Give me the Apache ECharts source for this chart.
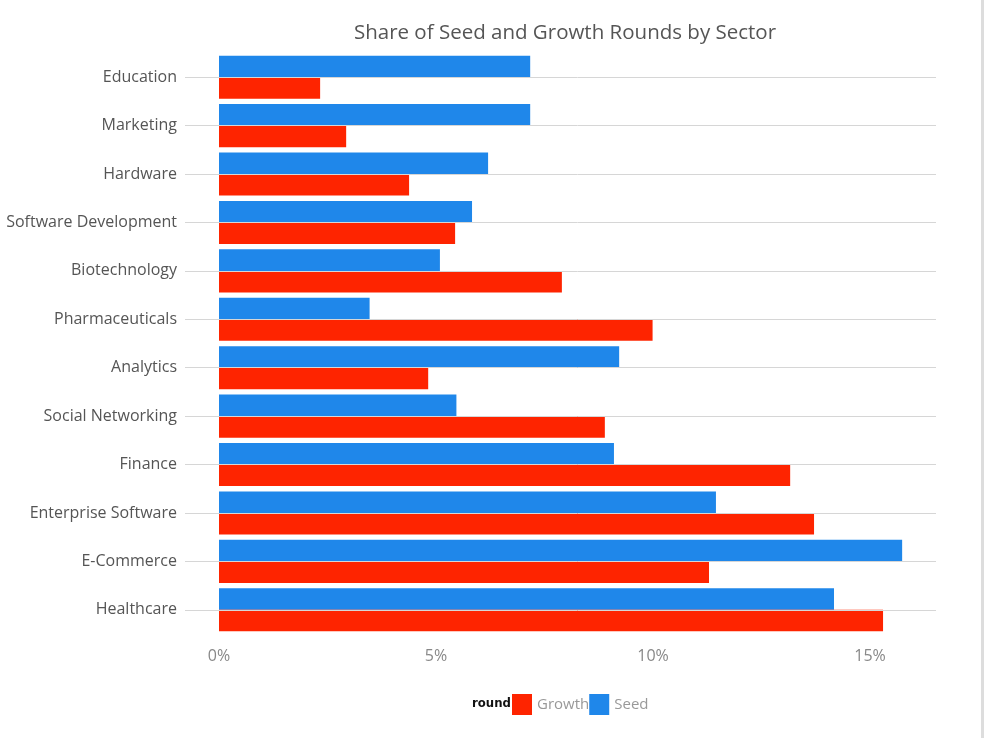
<!DOCTYPE html>
<html>
<head>
<meta charset="utf-8">
<script src="https://cdn.jsdelivr.net/npm/echarts@6/dist/echarts.min.js"></script>
<style>
html,body{margin:0;padding:0;background:#fff;}
#chart{width:985px;height:738px;}
</style>
</head>
<body>
<div id="chart"></div>
<script>
const categories = ['Education','Marketing','Hardware','Software Development','Biotechnology','Pharmaceuticals','Analytics','Social Networking','Finance','Enterprise Software','E-Commerce','Healthcare'];
const seedValues = [7.17, 7.17, 6.2, 5.83, 5.09, 3.47, 9.22, 5.47, 9.1, 11.45, 15.74, 14.17];
const growthValues = [2.33, 2.93, 4.38, 5.44, 7.9, 9.99, 4.82, 8.89, 13.16, 13.71, 11.29, 15.3];
const xTicks = [0, 5, 10, 15];

const FONT = 'Open Sans';
const chart = echarts.init(document.getElementById('chart'));
chart.setOption({
  animation: false,
  backgroundColor: '#fff',
  title: {
    text: 'Share of Seed and Growth Rounds by Sector',
    left: 560, top: 18, textAlign: 'center',
    textStyle: {fontFamily: FONT, fontSize: 20.5, fontWeight: 'normal', color: '#555'}
  },
  legend: {
    data: ['Growth', 'Seed'],
    left: 507, top: 689,
    itemWidth: 20, itemHeight: 21, itemGap: 0,
    icon: 'rect',
    textStyle: {fontFamily: FONT, fontSize: 15, color: '#999'}
  },
  graphic: [
    {type: 'text', left: 472, top: 697, style: {text: 'round', font: 'bold 13px "Liberation Sans Narrow", "DejaVu Sans Condensed", sans-serif', fill: '#111'}},
    {type: 'rect', shape: {x: 981, y: 0, width: 3, height: 738}, style: {fill: '#ddd'}}
  ],
  grid: {left: 219, right: 49, top: 53, bottom: 104, containLabel: false},
  xAxis: {
    type: 'value', min: 0, max: 16.52, interval: 5,
    axisLine: {show: false}, axisTick: {show: false}, splitLine: {show: false},
    axisLabel: {
      fontFamily: FONT, fontSize: 16, color: '#888', margin: 14,
      formatter: v => (xTicks.indexOf(v) >= 0 ? v + '%' : '')
    }
  },
  yAxis: {
    type: 'category', data: categories, inverse: true,
    axisLine: {show: false},
    axisTick: {show: true, alignWithLabel: true, length: 34, lineStyle: {color: '#d6d6d6'}},
    axisLabel: {fontFamily: FONT, fontSize: 16, color: '#555', margin: 42},
    splitLine: {show: false}
  },
  series: [
    {
      name: 'Seed', type: 'bar', data: seedValues,
      itemStyle: {color: '#1f87ea'},
      barGap: '0%', barCategoryGap: '11%'
    },
    {
      name: 'Growth', type: 'bar', data: growthValues,
      itemStyle: {color: '#fe2400'},
      barGap: '0%', barCategoryGap: '11%'
    },
    {
      name: 'grid', type: 'line', data: [], z: 1, silent: true,
      markLine: {
        silent: true, symbol: ['none', 'none'], label: {show: false},
        lineStyle: {color: '#d6d6d6', width: 1, type: 'solid'},
        data: categories.map(c => ({yAxis: c}))
      }
    }
  ]
});
</script>
</body>
</html>
